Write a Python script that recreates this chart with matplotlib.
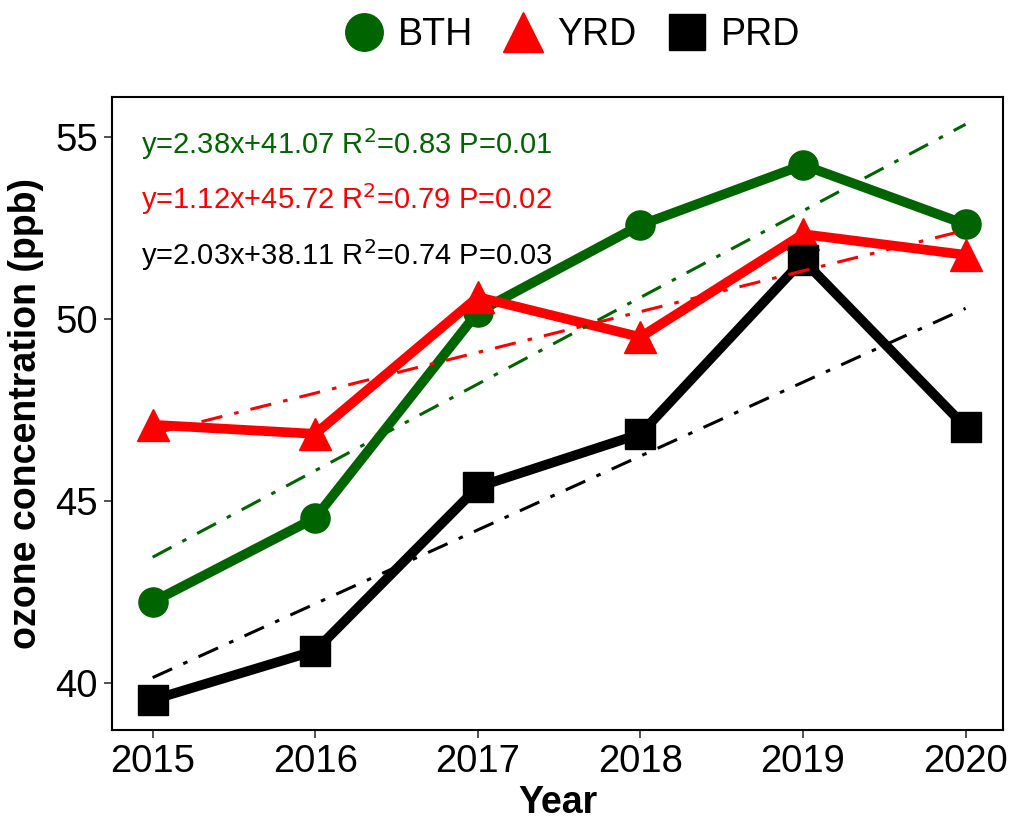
import matplotlib
matplotlib.use("Agg")
import matplotlib.pyplot as plt
from matplotlib.lines import Line2D
import numpy as np

plt.rcParams["font.family"] = ["Liberation Sans", "DejaVu Sans"]

years = [2015, 2016, 2017, 2018, 2019, 2020]
regions = ["BTH", "YRD", "PRD"]
bth = [42.22, 44.53, 50.19, 52.58, 54.23, 52.60]
yrd = [47.09, 46.84, 50.60, 49.50, 52.33, 51.76]
prd = [39.53, 40.88, 45.38, 46.84, 51.62, 47.03]

# fitted trends: y = slope * x + intercept, x = 1..6
slopes = [2.38, 1.12, 2.03]
intercepts = [41.07, 45.72, 38.11]
r2 = [0.83, 0.79, 0.74]
pvals = [0.01, 0.02, 0.03]

colors = ["#006400", "#FF0000", "#000000"]
markers = ["o", "^", "s"]
msizes = [21, 23, 21]

fig = plt.figure(figsize=(10.14, 8.31), dpi=100)
ax = fig.add_axes([112 / 1014, 1 - 730 / 831, (1003 - 112) / 1014, (730 - 97) / 831])

series = [bth, yrd, prd]
for vals, c, m, ms in zip(series, colors, markers, msizes):
    ax.plot(years, vals, color=c, lw=7, marker=m, ms=ms, zorder=2)

xi = np.arange(1, len(years) + 1)
for s, b, c in zip(slopes, intercepts, colors):
    ax.plot(years, s * xi + b, color=c, lw=2.2, dashes=(7, 4, 1.5, 4), zorder=3)

for i, (s, b, r, p, c) in enumerate(zip(slopes, intercepts, r2, pvals, colors)):
    txt = f"y={s:.2f}x+{b:.2f} R$^{{2}}$=0.{int(round(r * 100)):02d} P={p:.2f}"
    ax.text(0.033, 0.925 - i * 0.087, txt, transform=ax.transAxes, color=c,
            fontsize=21, va="center", ha="left")

ax.set_xlim(2014.75, 2020.23)
ax.set_ylim(38.7, 56.1)
ax.set_xticks(years)
ax.set_yticks([40, 45, 50, 55])
ax.tick_params(labelsize=27.5, length=6, width=1.2, color="#333333", pad=4)
for sp in ax.spines.values():
    sp.set_linewidth(1.5)
ax.set_xlabel("Year", fontsize=27, fontweight="bold", labelpad=4)
ax.set_ylabel("ozone concentration (ppb)", fontsize=27, fontweight="bold", labelpad=8)

handles = [Line2D([], [], color=c, marker=m, ms=ms, ls="none")
           for c, m, ms in zip(colors, markers, [27, 29, 26])]
fig.legend(handles, regions, loc="center", bbox_to_anchor=(0.562, 1 - 35 / 831), ncol=3,
           frameon=False, fontsize=27, handletextpad=0.25, columnspacing=0.7, handlelength=1.3)

fig.savefig("out.png", dpi=100)
